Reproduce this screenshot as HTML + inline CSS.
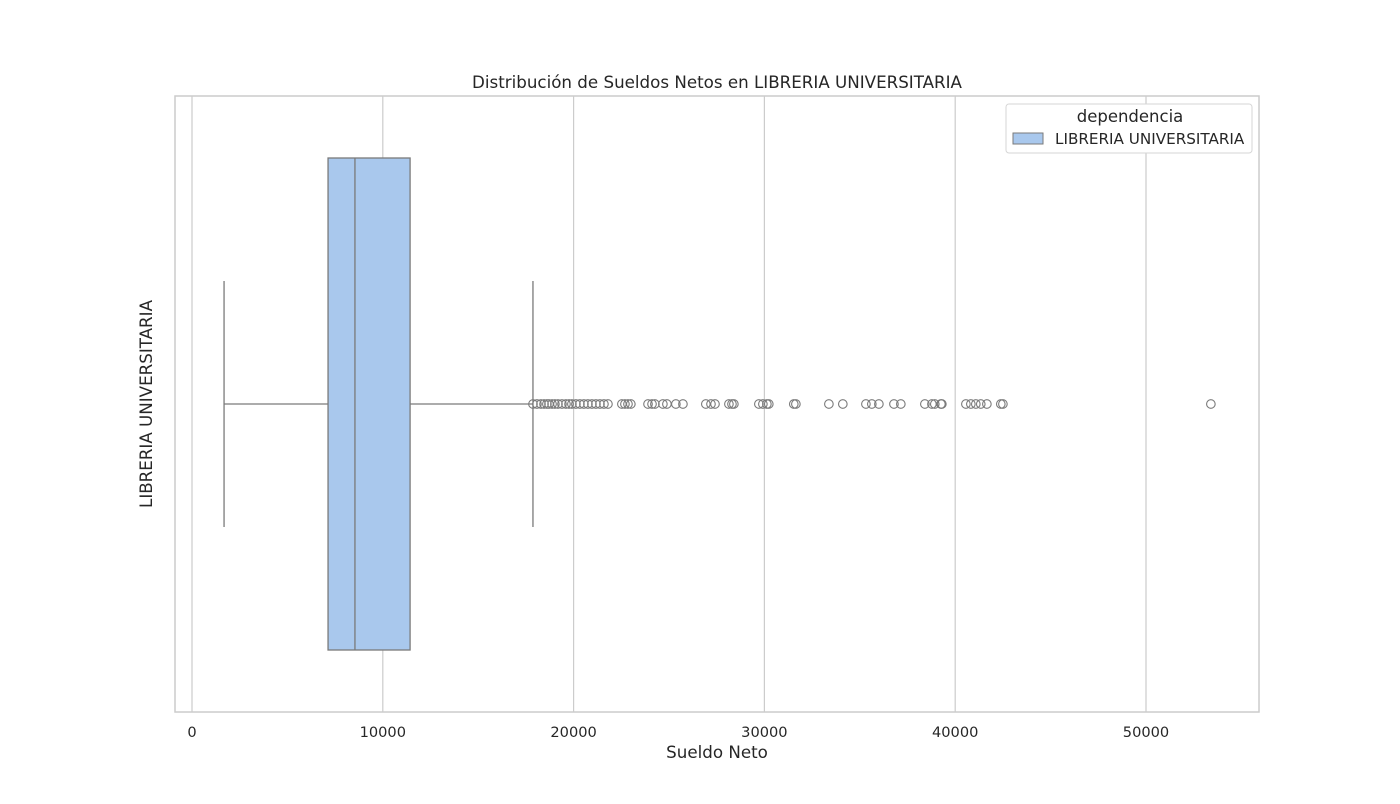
<!DOCTYPE html>
<html><head><meta charset="utf-8"><style>
body{margin:0;background:#fff;font-family:"DejaVu Sans","Liberation Sans",sans-serif}
svg text{font-family:"DejaVu Sans","Liberation Sans",sans-serif;fill:#262626}
</style></head><body>
<svg id="c" width="1400" height="800"></svg>
<script>
const ticks=[0,10000,20000,30000,40000,50000];
const tickLabels=["0","10000","20000","30000","40000","50000"];
const boxStats=[1680,7130,8540,11430,17870]; // whisker low, q1, median, q3, whisker high
const outliers=[17870,18080,18290,18450,18600,18710,18870,19020,19180,19390,19600,19760,19910,20120,20330,20540,20750,20960,21170,21380,21590,21800,22530,22690,22850,23000,23900,24110,24260,24680,24890,25360,25730,26930,27200,27410,28140,28300,28400,29710,29920,30130,30230,31540,31650,33380,34110,35320,35630,36000,36790,37150,38410,38780,38930,39250,39300,40560,40820,41080,41340,41660,42390,42500,53400];
const NS="http://www.w3.org/2000/svg";
const svg=document.getElementById('c');
const L=175,R=1259,T=96,B=712;
const x=v=>192+v*(1146-192)/50000;
function el(t,a,p){const e=document.createElementNS(NS,t);for(const k in a)e.setAttribute(k,a[k]);(p||svg).appendChild(e);return e;}
const grid=el('g',{});


ticks.forEach((t,i)=>{
  const g=el('line',{x1:x(t),x2:x(t),y1:T,y2:B,stroke:'#cccccc','stroke-width':1.2},grid);
  
  
  const tx=el('text',{x:x(t),y:737,'text-anchor':'middle','font-size':14.6});
  tx.textContent=tickLabels[i];
  
  
});
const frame=el('rect',{x:L,y:T,width:R-L,height:B-T,fill:'none',stroke:'#cccccc','stroke-width':1.5});


const cy=404,bt=158,bb=650,ct=281,cb=527,col='#7a7a7a';
const [wl,q1,med,q3,wh]=boxStats;
const wk=el('path',{d:`M${x(wl)},${cy}H${x(q1)}M${x(q3)},${cy}H${x(wh)}M${x(wl)},${ct}V${cb}M${x(wh)},${ct}V${cb}`,stroke:col,'stroke-width':1.3,fill:'none'});


const box=el('rect',{x:x(q1),y:bt,width:x(q3)-x(q1),height:bb-bt,fill:'#a9c8ed',stroke:col,'stroke-width':1.3});


const md=el('line',{x1:x(med),x2:x(med),y1:bt,y2:bb,stroke:col,'stroke-width':1.3});


outliers.forEach(v=>{
  const c=el('circle',{cx:x(v),cy:cy,r:4.3,fill:'none',stroke:col,'stroke-width':1.1});
  
  
});
function txt(s,a,name){const t=el('text',a);t.textContent=s;return t;}
txt('Distribución de Sueldos Netos en LIBRERIA UNIVERSITARIA',{x:717,y:88,'text-anchor':'middle','font-size':16.7},'chart-title');
txt('Sueldo Neto',{x:717,y:758,'text-anchor':'middle','font-size':16.7},'x-axis-title');
txt('LIBRERIA UNIVERSITARIA',{x:0,y:0,transform:'translate(152,404) rotate(-90)','text-anchor':'middle','font-size':16.7},'y-axis-title');
const lg=el('g',{});


el('rect',{x:1006,y:104,width:246,height:49,rx:3,fill:'#fff',stroke:'#d6d6d6'},lg);
const lt=el('text',{x:1130,y:122,'text-anchor':'middle','font-size':16.5},lg);lt.textContent='dependencia';


const sw=el('rect',{x:1013,y:133,width:30,height:11,fill:'#a9c8ed',stroke:col},lg);


const le=el('text',{x:1055,y:144,'font-size':15.2},lg);le.textContent='LIBRERIA UNIVERSITARIA';


</script>
</body></html>
